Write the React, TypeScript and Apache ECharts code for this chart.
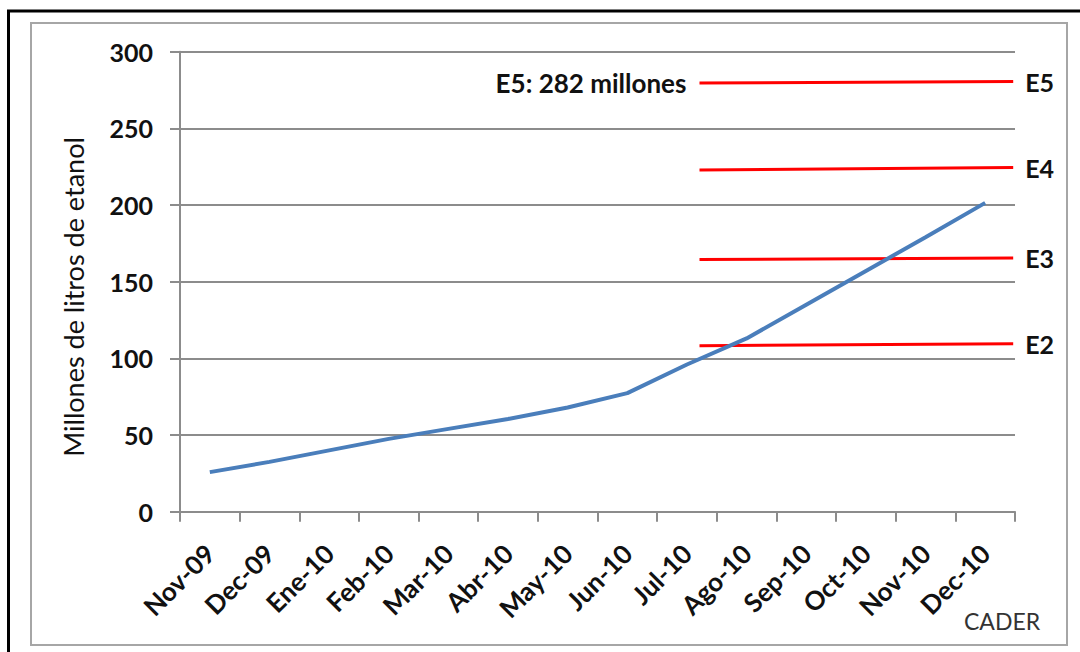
import React, { useEffect, useRef } from "react";
import * as echarts from "echarts";

const months = ["Nov-09", "Dec-09", "Ene-10", "Feb-10", "Mar-10", "Abr-10", "May-10", "Jun-10", "Jul-10", "Ago-10", "Sep-10", "Oct-10", "Nov-10", "Dec-10"];
const ethanol = [25.8, 32.5, 40, 47.5, 54, 60.5, 68, 77.3, 96, 113, 135, 157, 179, 201.4];
const blendNames = ["E2", "E3", "E4", "E5"];
const blendStart = [108.3, 164.4, 222.9, 279.6];
const blendEnd = [109.6, 165.5, 224.4, 280.5];
const blendX = [8.71, 13.97];
const e5Note = "E5: 282 millones";
const sourceLabel = "CADER";
const yTitle = "Millones de litros de etanol";
const yTicks = { min: 0, max: 300, interval: 50 };

const FONT = "Lato";

export default function App() {
  const ref = useRef<HTMLDivElement>(null);
  useEffect(() => {
    if (!ref.current) return;
    const chart = echarts.init(ref.current, null, { renderer: "svg" });
    const blendSeries = blendNames.map((name, i) => ({
      type: "line",
      name,
      xAxisIndex: 1,
      yAxisIndex: 0,
      symbol: "circle",
      symbolSize: 0.1,
      showSymbol: true,
      itemStyle: { color: "#ff0000" },
      lineStyle: { color: "#ff0000", width: 3 },
      label: {
        show: name === "E5",
        position: "left",
        distance: 13,
        formatter: (p: any) => (p.dataIndex === 0 ? e5Note : ""),
        color: "#111",
        fontFamily: FONT,
        fontWeight: "bold",
        fontSize: 26,
      },
      data: [
        [blendX[0], blendStart[i]],
        [blendX[1], blendEnd[i]],
      ],
      endLabel: {
        show: true,
        formatter: name,
        distance: 12,
        color: "#111",
        fontFamily: FONT,
        fontWeight: "bold",
        fontSize: 25,
      },
      z: 3,
    }));
    chart.setOption({
      animation: false,
      backgroundColor: "#fff",
      graphic: [
        {
          type: "rect",
          shape: { x: 8.5, y: 11, width: 1200, height: 800 },
          style: { fill: "none", stroke: "#000", lineWidth: 3 },
          silent: true,
        },
        {
          type: "rect",
          shape: { x: 31, y: 23, width: 1036, height: 622 },
          style: { fill: "none", stroke: "#a6a6a6", lineWidth: 2 },
          silent: true,
        },
        {
          type: "text",
          x: 73,
          y: 297,
          rotation: Math.PI / 2,
          style: {
            text: yTitle,
            fill: "#111",
            font: `27px ${FONT}`,
            align: "center",
            verticalAlign: "middle",
          },
          silent: true,
        },
        {
          type: "text",
          left: 964,
          top: 609,
          style: { text: sourceLabel, fill: "#333", font: `23px ${FONT}` },
          silent: true,
        },
      ],
      grid: { left: 180, right: 65, top: 51.7, bottom: 140.3, containLabel: false },
      xAxis: [
        {
          type: "category",
          data: months,
          boundaryGap: true,
          axisLine: { lineStyle: { color: "#8c8c8c", width: 2 } },
          axisTick: { show: true, interval: 0, length: 10, lineStyle: { color: "#8c8c8c", width: 2 } },
          axisLabel: {
            interval: 0,
            rotate: 45,
            margin: 37,
            color: "#111",
            fontFamily: FONT,
            fontWeight: "bold",
            fontSize: 26,
          },
          splitLine: { show: false },
        },
        { type: "value", min: 0, max: 14, show: false },
      ],
      yAxis: {
        type: "value",
        min: yTicks.min,
        max: yTicks.max,
        interval: yTicks.interval,
        axisLine: { show: true, lineStyle: { color: "#8c8c8c", width: 2 } },
        axisTick: { show: true, length: 10, lineStyle: { color: "#8c8c8c", width: 2 } },
        axisLabel: { margin: 27, color: "#111", fontFamily: FONT, fontWeight: "bold", fontSize: 25 },
        splitLine: { show: true, lineStyle: { color: "#8c8c8c", width: 2 } },
      },
      series: [
        {
          type: "line",
          name: "Etanol",
          data: ethanol,
          symbol: "none",
          lineStyle: { color: "#4a7ebb", width: 4 },
          z: 4,
        },
        ...blendSeries,
      ],
    });
    return () => chart.dispose();
  }, []);
  return (
    <div
      ref={ref}
      style={{ position: "fixed", left: 0, top: 0, width: 1080, height: 652, background: "#fff" }}
    />
  );
}
